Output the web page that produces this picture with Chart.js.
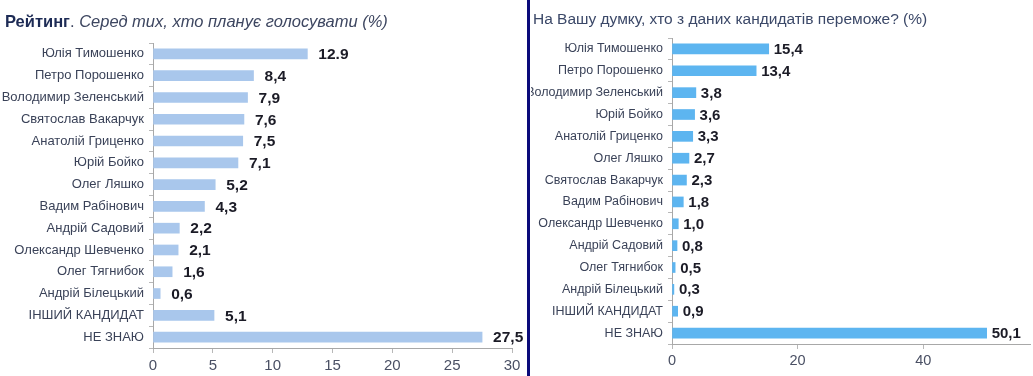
<!DOCTYPE html>
<html>
<head>
<meta charset="utf-8">
<script src="https://cdn.jsdelivr.net/npm/chart.js@4"></script>
<style>
  body { margin: 0; background: #fff; width: 1033px; height: 376px; overflow: hidden; position: relative; font-family: "Liberation Sans", Arial, sans-serif; }
  .panel { position: absolute; top: 0; height: 376px; }
  #leftPanel { left: 0; width: 527px; }
  #rightPanel { left: 531px; width: 502px; }
  .divider { position: absolute; left: 527px; top: 0; width: 3px; height: 376px; background: #0b0b7a; }
  .title { position: absolute; white-space: nowrap; }
  #leftTitle { left: 5px; top: 12px; font-size: 16.5px; color: #3d4660; }
  #leftTitle b { color: #1d2b55; }
  #leftTitle i { font-style: italic; }
  #rightTitle { left: 533px; top: 10px; font-size: 15.5px; color: #3b4868; }
</style>
</head>
<body>
<div class="panel" id="leftPanel"><canvas id="ratingChart" width="527" height="376"></canvas></div>
<div class="panel" id="rightPanel"><canvas id="winnerChart" width="502" height="376"></canvas></div>
<div class="divider"></div>
<div class="title" id="leftTitle"><b>Рейтинг</b>. <i>Серед тих, хто планує голосувати (%)</i></div>
<div class="title" id="rightTitle">На Вашу думку, хто з даних кандидатів переможе? (%)</div>

<script>
// Left: rating among those planning to vote
const ratingCandidates = [
  "Юлія Тимошенко", "Петро Порошенко", "Володимир Зеленський", "Святослав Вакарчук",
  "Анатолій Гриценко", "Юрій Бойко", "Олег Ляшко", "Вадим Рабінович",
  "Андрій Садовий", "Олександр Шевченко", "Олег Тягнибок", "Андрій Білецький",
  "ІНШИЙ КАНДИДАТ", "НЕ ЗНАЮ"
];
const ratingValues = [12.9, 8.4, 7.9, 7.6, 7.5, 7.1, 5.2, 4.3, 2.2, 2.1, 1.6, 0.6, 5.1, 27.5];
const ratingValueText = ["12.9", "8,4", "7,9", "7,6", "7,5", "7,1", "5,2", "4,3", "2,2", "2,1", "1,6", "0,6", "5,1", "27,5"];
const ratingTicks = [0, 5, 10, 15, 20, 25, 30];

// Right: who will win
const winnerCandidates = [
  "Юлія Тимошенко", "Петро Порошенко", "Володимир Зеленський", "Юрій Бойко",
  "Анатолій Гриценко", "Олег Ляшко", "Святослав Вакарчук", "Вадим Рабінович",
  "Олександр Шевченко", "Андрій Садовий", "Олег Тягнибок", "Андрій Білецький",
  "ІНШИЙ КАНДИДАТ", "НЕ ЗНАЮ"
];
const winnerValues = [15.4, 13.4, 3.8, 3.6, 3.3, 2.7, 2.3, 1.8, 1.0, 0.8, 0.5, 0.3, 0.9, 50.1];
const winnerValueText = ["15,4", "13,4", "3,8", "3,6", "3,3", "2,7", "2,3", "1,8", "1,0", "0,8", "0,5", "0,3", "0,9", "50,1"];
const winnerTicks = [0, 20, 40];

const FONT = "'Liberation Sans', Arial, sans-serif";

// draws the value next to each bar
const valueLabels = {
  id: "valueLabels",
  afterDatasetsDraw(chart, args, opts) {
    const ctx = chart.ctx;
    const meta = chart.getDatasetMeta(0);
    ctx.save();
    ctx.font = `bold ${opts.size}px ${FONT}`;
    ctx.fillStyle = "#1b1b26";
    ctx.textBaseline = "middle";
    ctx.textAlign = "left";
    meta.data.forEach((bar, i) => {
      ctx.fillText(opts.texts[i], bar.x + opts.offset, bar.y + 1);
    });
    ctx.restore();
  }
};

function renderBar(id, labels, values, texts, opts) {
  return new Chart(document.getElementById(id), {
    type: "bar",
    data: {
      labels,
      datasets: [{
        data: values,
        backgroundColor: opts.color,
        barThickness: opts.barThickness,
        borderWidth: 0
      }]
    },
    options: {
      indexAxis: "y",
      responsive: false,
      animation: false,
      layout: { padding: opts.padding },
      plugins: {
        legend: { display: false },
        tooltip: { enabled: false },
        valueLabels: { texts, size: opts.valueSize, offset: opts.valueOffset }
      },
      scales: {
        x: {
          min: 0,
          max: opts.max,
          afterBuildTicks: s => { s.ticks = opts.ticks.map(v => ({ value: v })); },
          afterFit: s => { s.height = opts.xHeight; },
          grid: { drawOnChartArea: false, drawTicks: true, tickLength: 5, color: "#b8b8b8" },
          border: { display: true, color: "#a8a8a8" },
          ticks: { color: "#4a5064", font: { family: FONT, size: opts.xFont }, padding: opts.xPad, maxRotation: 0 }
        },
        y: {
          afterFit: s => { s.width = opts.yWidth; },
          grid: { drawOnChartArea: false, drawTicks: true, tickLength: 4, color: "#b8b8b8", offset: true },
          border: { display: true, color: "#a8a8a8" },
          ticks: { color: "#3a4258", font: { family: FONT, size: opts.yFont }, padding: 5, autoSkip: false }
        }
      }
    },
    plugins: [valueLabels]
  });
}

renderBar("ratingChart", ratingCandidates, ratingValues, ratingValueText, {
  color: "#a9c7ec",
  barThickness: 10,
  max: 30,
  ticks: ratingTicks,
  padding: { top: 43, right: 15, bottom: 0, left: 0 },
  xHeight: 28,
  xFont: 15,
  xPad: 4,
  yWidth: 153,
  yFont: 13,
  valueSize: 15.5,
  valueOffset: 11
});

renderBar("winnerChart", winnerCandidates, winnerValues, winnerValueText, {
  color: "#5db5f0",
  barThickness: 10,
  max: 57,
  ticks: winnerTicks,
  padding: { top: 38, right: 3, bottom: 0, left: 0 },
  xHeight: 32,
  xFont: 14.5,
  xPad: 3,
  yWidth: 141,
  yFont: 12.5,
  valueSize: 15,
  valueOffset: 5
});
</script>
</body>
</html>
